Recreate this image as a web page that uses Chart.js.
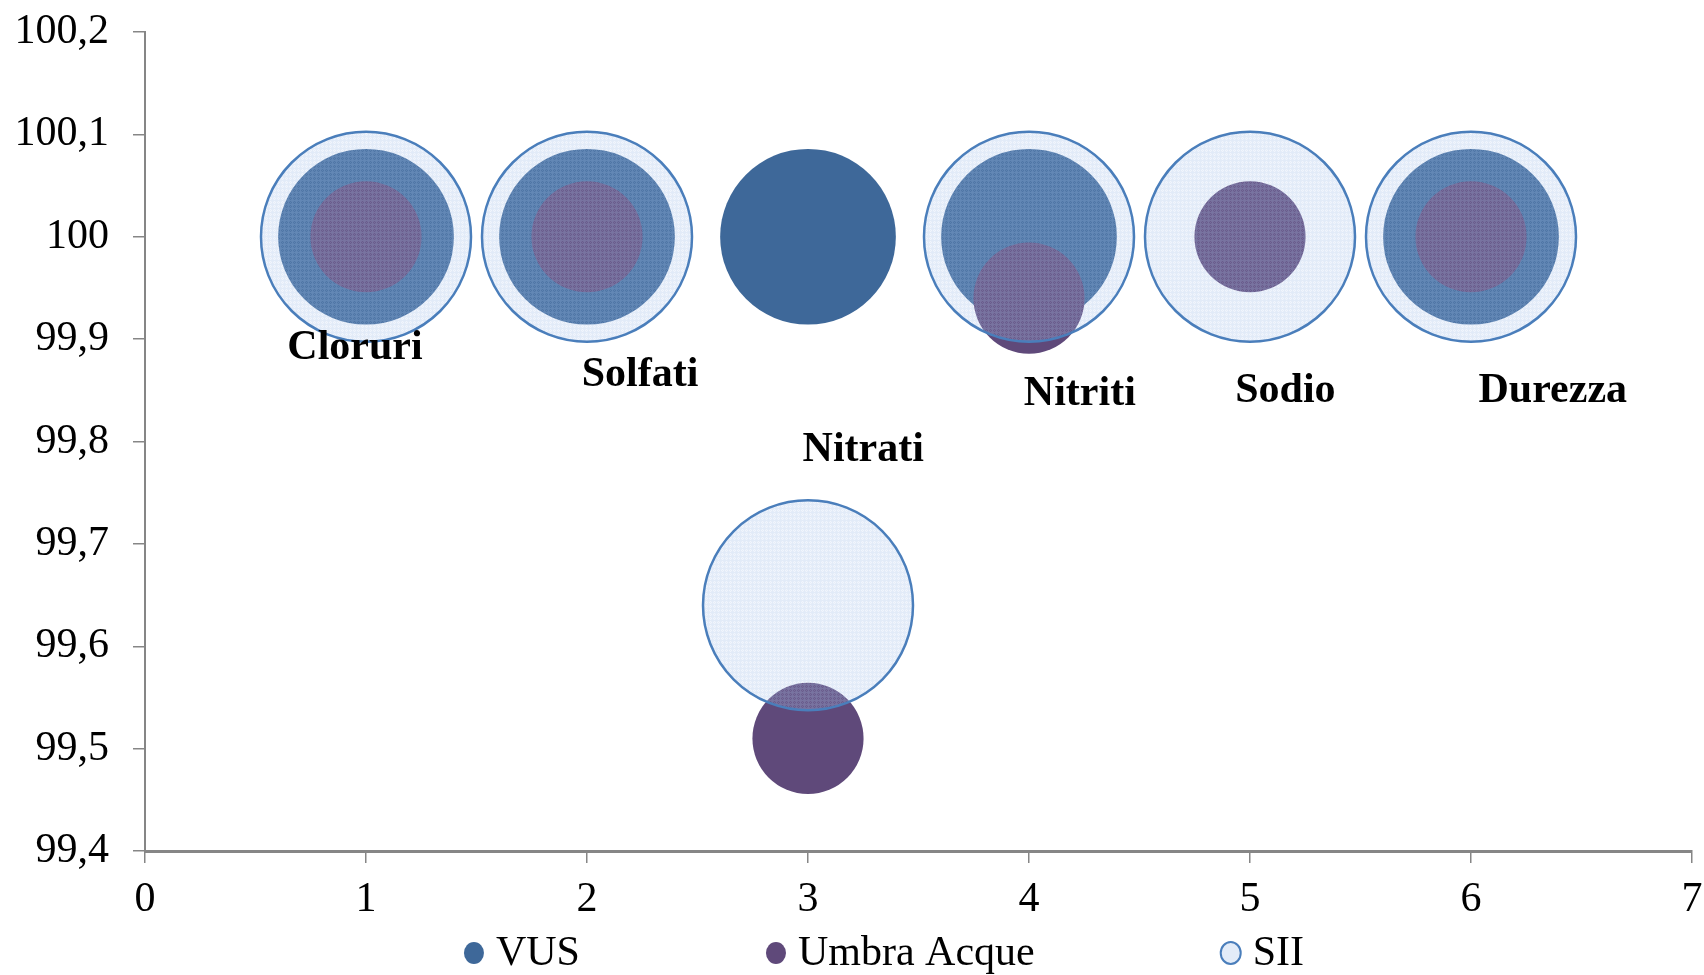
<!DOCTYPE html>
<html>
<head>
    <title>VUS / Umbra Acque / SII</title>
    <script src="https://cdn.jsdelivr.net/npm/chart.js@4"></script>
    <style>
        html, body { margin: 0; padding: 0; background: #fff; }
        #wrap { width: 1704px; height: 975px; }
    </style>
</head>
<body>
    <div id="wrap"><canvas id="chart"></canvas></div>
    <script>
        // Parameters (one bubble per parameter and per source)
        const parametri = ['Cloruri', 'Solfati', 'Nitrati', 'Nitriti', 'Sodio', 'Durezza'];

        // VUS (no value for Sodio)
        const vusX = [1, 2, 3, 4, 6];
        const vusY = [100, 100, 100, 100, 100];
        const vusSize = [70, 70, 70, 70, 70];

        // Umbra Acque
        const umbraX = [1, 2, 3, 4, 5, 6];
        const umbraY = [100, 100, 99.51, 99.94, 100, 100];
        const umbraSize = [28, 28, 28, 28, 28, 28];

        // SII
        const siiX = [1, 2, 3, 4, 5, 6];
        const siiY = [100, 100, 99.64, 100, 100, 100];
        const siiSize = [100, 100, 100, 100, 100, 100];

        // data label anchors, in axis units
        const labelX = [0.95, 2.24, 3.25, 4.23, 5.16, 6.37];
        const labelY = [99.891, 99.865, 99.792, 99.846, 99.849, 99.849];

        const yTicksMin = 99.4, yTicksMax = 100.2, yStep = 0.1;
        const xTicksMin = 0, xTicksMax = 7;

        const FONT = '"Liberation Serif", "Times New Roman", serif';
        const FONT_SIZE = 42;
        const MAX_RADIUS = 105; // bubble scale: size 100 -> 105px

        function toPoints(xs, ys, sizes) {
            return xs.map((x, i) => ({ x: x, y: ys[i], r: MAX_RADIUS * Math.sqrt(sizes[i] / 100) }));
        }

        // light blue fine grid fill like the Excel pattern
        function makePattern() {
            const c = document.createElement('canvas');
            c.width = 4; c.height = 4;
            const g = c.getContext('2d');
            for (let i = 0; i < 4; i++) {
                for (let j = 0; j < 4; j++) {
                    let a = (i + j) % 2 === 0 ? 0.30 : 0.16;
                    if (i === 0 || j === 0) a = 0.34;
                    g.fillStyle = `rgba(170,195,235,${a})`;
                    g.fillRect(i, j, 1, 1);
                }
            }
            return g.createPattern(c, 'repeat');
        }

        // bold labels placed next to the bubbles
        const labelPlugin = {
            id: 'labels',
            afterDatasetsDraw(chart) {
                const ctx = chart.ctx;
                const xs = chart.scales.x, ys = chart.scales.y;
                ctx.save();
                ctx.font = 'bold ' + FONT_SIZE + 'px ' + FONT;
                ctx.fillStyle = '#000';
                ctx.textAlign = 'center';
                ctx.textBaseline = 'middle';
                parametri.forEach((p, i) => {
                    ctx.fillText(p, xs.getPixelForValue(labelX[i]), ys.getPixelForValue(labelY[i]));
                });
                ctx.restore();
            }
        };

        // legend spread out like Excel's
        const legendPlugin = {
            id: 'wideLegend',
            afterDraw(chart) {
                const ctx = chart.ctx;
                const gap = 186, dot = 10, dotGap = 12;
                ctx.save();
                ctx.font = '42px ' + FONT;
                const items = chart.data.datasets.map(ds => {
                    const w = dot * 2 + dotGap + ctx.measureText(ds.label).width;
                    return { ds: ds, w: w };
                });
                const total = items.reduce((s, it) => s + it.w, 0) + gap * (items.length - 1);
                let x = chart.width / 2 + 32 - total / 2;
                const y = 953;
                items.forEach(it => {
                    ctx.beginPath();
                    ctx.ellipse(x + dot, y, dot, dot * 1.1, 0, 0, Math.PI * 2);
                    ctx.fillStyle = it.ds.legendFill || it.ds.backgroundColor;
                    ctx.fill();
                    if (it.ds.borderWidth) {
                        ctx.lineWidth = 2;
                        ctx.strokeStyle = it.ds.borderColor;
                        ctx.stroke();
                    }
                    ctx.fillStyle = '#000';
                    ctx.textBaseline = 'middle';
                    ctx.textAlign = 'left';
                    ctx.fillText(it.ds.label, x + dot * 2 + dotGap, y + 1);
                    x += it.w + gap;
                });
                ctx.restore();
            }
        };

        const pattern = makePattern();

        new Chart(document.getElementById('chart'), {
            type: 'bubble',
            data: {
                datasets: [
                    {
                        label: 'VUS',
                        data: toPoints(vusX, vusY, vusSize),
                        backgroundColor: '#3E6899',
                        borderWidth: 0,
                        order: 3
                    },
                    {
                        label: 'Umbra Acque',
                        data: toPoints(umbraX, umbraY, umbraSize),
                        backgroundColor: '#5F497A',
                        borderWidth: 0,
                        order: 2
                    },
                    {
                        label: 'SII',
                        data: toPoints(siiX, siiY, siiSize),
                        backgroundColor: pattern,
                        legendFill: '#E3ECF8',
                        borderColor: '#4A7EBB',
                        borderWidth: 2.5,
                        order: 1
                    }
                ]
            },
            options: {
                responsive: true,
                maintainAspectRatio: false,
                animation: false,
                events: [],
                layout: { autoPadding: false, padding: { top: 32, right: 0, left: 0, bottom: 0 } },
                plugins: {
                    legend: { display: false },
                    tooltip: { enabled: false }
                },
                scales: {
                    x: {
                        type: 'linear',
                        min: xTicksMin,
                        max: xTicksMax,
                        afterFit: s => { s.height = 124; s.paddingRight = 12; s.paddingLeft = 0; },
                        ticks: {
                            stepSize: 1,
                            padding: 12,
                            color: '#000',
                            font: { family: FONT, size: FONT_SIZE }
                        },
                        grid: {
                            drawOnChartArea: false,
                            tickLength: 12,
                            color: '#868686',
                            lineWidth: 1.5
                        },
                        border: { color: '#868686', width: 3 }
                    },
                    y: {
                        min: yTicksMin,
                        max: yTicksMax,
                        afterFit: s => { s.width = 145; s.paddingTop = 0; s.paddingBottom = 0; },
                        ticks: {
                            stepSize: yStep,
                            padding: 24,
                            color: '#000',
                            font: { family: FONT, size: FONT_SIZE },
                            callback: v => String(Number(v.toFixed(1))).replace('.', ',')
                        },
                        grid: {
                            drawOnChartArea: false,
                            tickLength: 12,
                            color: '#868686',
                            lineWidth: 1.5
                        },
                        border: { color: '#868686', width: 2 }
                    }
                }
            },
            plugins: [labelPlugin, legendPlugin]
        });
    </script>
</body>
</html>
